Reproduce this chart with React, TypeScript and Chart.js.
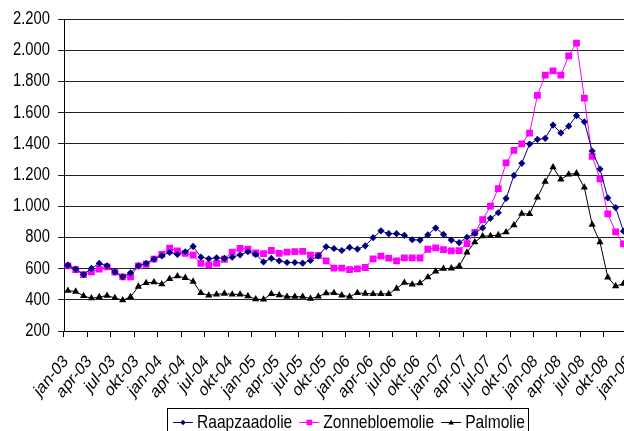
import React, { useEffect, useRef } from 'react';
import { Chart, registerables } from 'chart.js';

Chart.register(...registerables);

// Maandlabels jan-03 t/m jan-09
const MAANDEN = ['jan', 'feb', 'mrt', 'apr', 'mei', 'jun', 'jul', 'aug', 'sep', 'okt', 'nov', 'dec'];
const JAREN = ['03', '04', '05', '06', '07', '08', '09'];
const categories = JAREN.flatMap((j) => MAANDEN.map((m) => `${m}-${j}`)).slice(0, 73);

// Prijzen per ton
const raapzaadolie = [
  622, 596, 562, 601, 633, 618, 579, 547, 573, 618, 633, 661,
  682, 704, 691, 708, 742, 673, 663, 669, 665, 673, 688, 708,
  691, 643, 665, 650, 639, 639, 635, 652, 682, 740, 729, 716,
  736, 725, 746, 798, 842, 824, 824, 813, 785, 783, 817, 860,
  819, 783, 766, 801, 825, 861, 922, 958, 1050, 1197, 1275, 1398,
  1428, 1435, 1520, 1470, 1513, 1580, 1541, 1354, 1238, 1053, 991, 840,
  null,
];

const zonnebloemolie = [
  618, 594, 562, 579, 596, 611, 577, 547, 547, 618, 628, 661,
  691, 731, 714, 697, 686, 633, 624, 633, 660, 706, 730, 725,
  700, 696, 716, 698, 706, 709, 710, 686, 684, 650, 603, 603,
  594, 598, 607, 662, 680, 667, 649, 669, 669, 668, 724, 733,
  722, 713, 715, 760, 832, 914, 1000, 1113, 1278, 1358, 1400, 1468,
  1710, 1840, 1867, 1840, 1964, 2046, 1693, 1320, 1176, 951, 835, 758,
  null,
];

const palmolie = [
  459, 453, 425, 410, 418, 427, 412, 397, 418, 485, 508, 513,
  500, 534, 551, 541, 517, 444, 428, 435, 440, 435, 435, 424,
  404, 402, 438, 430, 420, 420, 420, 408, 421, 443, 444, 429,
  420, 444, 440, 438, 438, 438, 472, 510, 498, 506, 545, 582,
  600, 602, 616, 704, 770, 808, 810, 815, 834, 878, 952, 950,
  1056, 1157, 1250, 1172, 1204, 1211, 1120, 882, 770, 543, 488, 504,
  null,
];

const Y_MIN = 200;
const Y_MAX = 2200;
const Y_STAP = 200;

const FONT = '"Liberation Sans", Arial, sans-serif';
// Geen smalle letter beschikbaar: tekst wordt horizontaal samengedrukt
const SMAL = 0.82;

const formatNL = (v: number) => String(v).replace(/\B(?=(\d{3})+(?!\d))/g, '.');

type Reeks = { label: string; data: (number | null)[]; kleur: string; vorm: 'rectRot' | 'rect' | 'triangle'; r: number };

const REEKSEN: Reeks[] = [
  { label: 'Raapzaadolie', data: raapzaadolie, kleur: '#000080', vorm: 'rectRot', r: 3.6 },
  { label: 'Zonnebloemolie', data: zonnebloemolie, kleur: '#FF00FF', vorm: 'rect', r: 4.8 },
  { label: 'Palmolie', data: palmolie, kleur: '#000000', vorm: 'triangle', r: 4.2 },
];

function tekenMarker(ctx: CanvasRenderingContext2D, vorm: string, x: number, y: number, r: number) {
  ctx.beginPath();
  if (vorm === 'rectRot') {
    ctx.moveTo(x - r, y);
    ctx.lineTo(x, y - r);
    ctx.lineTo(x + r, y);
    ctx.lineTo(x, y + r);
  } else if (vorm === 'rect') {
    ctx.rect(x - r, y - r, 2 * r, 2 * r);
  } else {
    ctx.moveTo(x, y - r);
    ctx.lineTo(x + r * 0.95, y + r * 0.7);
    ctx.lineTo(x - r * 0.95, y + r * 0.7);
  }
  ctx.closePath();
  ctx.fill();
}

// Smalle tekst: elke fillText wordt in schermcoördinaten horizontaal
// samengedrukt rond zijn eigen ankerpunt (ook bij gedraaide labels)
const smalleTekst = {
  id: 'smalleTekst',
  beforeDraw(chart: any) {
    const ctx: any = chart.ctx;
    if (ctx.__smal) return;
    const orig = ctx.fillText;
    ctx.fillText = function (text: string, x: number, y: number, maxWidth?: number) {
      const m: DOMMatrix = this.getTransform();
      const p = m.transformPoint(new DOMPoint(x, y));
      this.save();
      this.setTransform(new DOMMatrix().translate(p.x, 0).scale(SMAL, 1).translate(-p.x, 0).multiply(m));
      if (maxWidth !== undefined) orig.call(this, text, x, y, maxWidth);
      else orig.call(this, text, x, y);
      this.restore();
    };
    ctx.__smal = true;
  },
};

// Legenda in een kader onder de grafiek: lijnstukje met marker, gevolgd door de naam
const kaderLegenda = {
  id: 'kaderLegenda',
  afterDraw(chart: any) {
    const ctx: CanvasRenderingContext2D = chart.ctx;
    ctx.save();
    ctx.font = `19px ${FONT}`;
    const lijn = 20;
    const tussen = 4;
    const gat = 7;
    const padL = 5.5;
    const padR = 4;
    const breedtes = REEKSEN.map((s) => ctx.measureText(s.label).width * SMAL);
    const totaal = padL + breedtes.reduce((a, w) => a + lijn + tussen + w, 0) + gat * (REEKSEN.length - 1) + padR;
    const links = 167.5;
    const boven = 408.5;
    const midden = 422;
    ctx.strokeStyle = '#000';
    ctx.lineWidth = 1;
    ctx.strokeRect(links, boven, Math.round(totaal), 30);
    let x = links + padL;
    REEKSEN.forEach((s, i) => {
      ctx.strokeStyle = s.kleur;
      ctx.fillStyle = s.kleur;
      ctx.beginPath();
      ctx.moveTo(x, midden + 0.5);
      ctx.lineTo(x + lijn, midden + 0.5);
      ctx.stroke();
      tekenMarker(ctx, s.vorm, x + lijn / 2, midden + 0.5, 2.8);
      x += lijn + tussen;
      ctx.fillStyle = '#000';
      ctx.textAlign = 'left';
      ctx.textBaseline = 'middle';
      ctx.fillText(s.label, x, midden + 1);
      x += breedtes[i] + gat;
    });
    ctx.restore();
  },
};

export default function App() {
  const ref = useRef<HTMLCanvasElement | null>(null);

  useEffect(() => {
    if (!ref.current) return;
    const chart = new Chart(ref.current, {
      type: 'line',
      data: {
        labels: categories,
        datasets: REEKSEN.map((s) => ({
          label: s.label,
          data: s.data,
          borderColor: s.kleur,
          backgroundColor: s.kleur,
          borderWidth: 1,
          pointStyle: s.vorm,
          pointRadius: s.r,
          pointBorderWidth: 0,
          pointBackgroundColor: s.kleur,
          tension: 0,
          spanGaps: false,
        })),
      },
      options: {
        animation: false,
        responsive: false,
        devicePixelRatio: 1,
        layout: { padding: { top: 19, right: 4, left: 0, bottom: 0 } },
        plugins: {
          legend: { display: false },
          tooltip: { enabled: false },
        },
        scales: {
          x: {
            type: 'category',
            offset: true,
            afterFit: (scale: any) => {
              scale.height = 100;
              scale.paddingLeft = 0;
              scale.paddingRight = 0;
            },
            grid: {
              offset: true,
              drawOnChartArea: false,
              drawTicks: true,
              tickLength: 6,
              color: (c: any) => (c.index !== undefined && c.index % 3 === 0 ? '#000' : 'rgba(0,0,0,0)'),
            },
            border: { color: '#000', width: 1 },
            ticks: {
              autoSkip: false,
              minRotation: 45,
              maxRotation: 45,
              padding: 14,
              labelOffset: -2,
              color: '#000',
              font: { family: FONT, size: 18 },
              callback: (_v: any, i: number) => (i % 3 === 0 ? categories[i] : ''),
            },
          },
          y: {
            min: Y_MIN,
            max: Y_MAX,
            afterFit: (scale: any) => {
              scale.width = 64;
            },
            grid: {
              color: '#222',
              lineWidth: 1,
              drawTicks: true,
              tickLength: 6,
            },
            border: { color: '#000', width: 1 },
            ticks: {
              stepSize: Y_STAP,
              padding: 8,
              color: '#000',
              font: { family: FONT, size: 18 },
              callback: (v: any) => formatNL(Number(v)),
            },
          },
        },
      },
      plugins: [smalleTekst, kaderLegenda],
    });
    return () => chart.destroy();
  }, []);

  return (
    <div style={{ position: 'fixed', left: 0, top: 0, width: 624, height: 431, overflow: 'hidden', background: '#fff' }}>
      <canvas ref={ref} width={640} height={431} style={{ display: 'block' }} />
    </div>
  );
}
